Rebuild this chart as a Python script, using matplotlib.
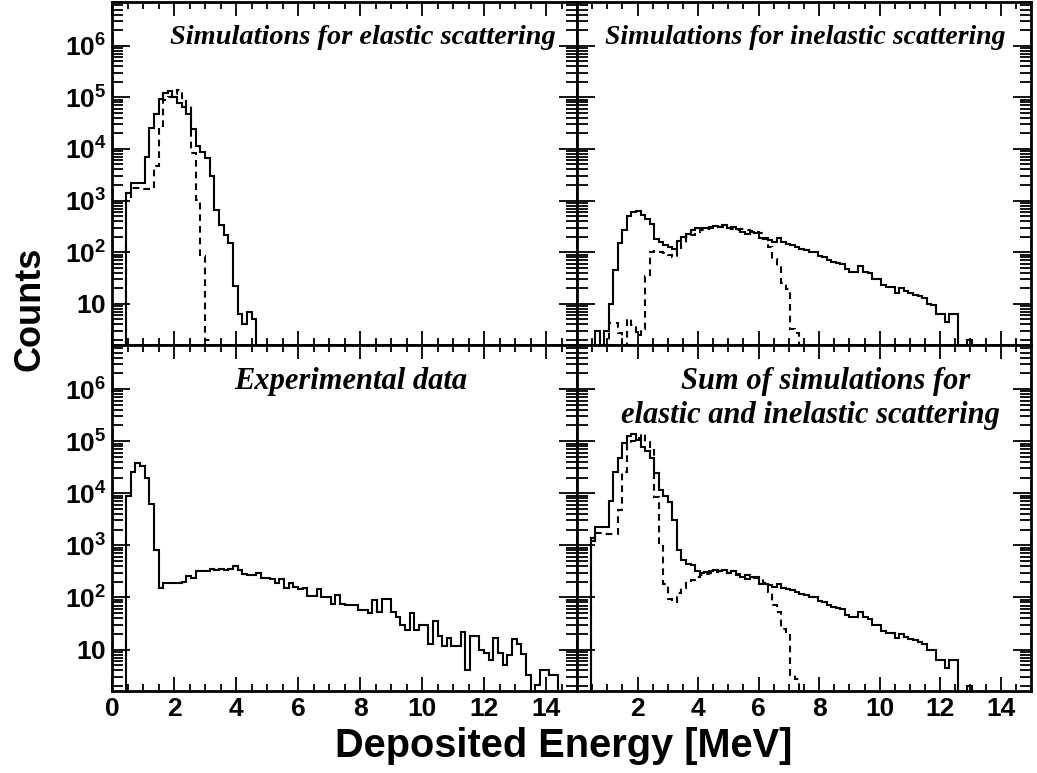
import numpy as np
import matplotlib
matplotlib.use("Agg")
import matplotlib.pyplot as plt
from matplotlib import font_manager
from matplotlib.ticker import MultipleLocator, LogLocator, NullFormatter, FixedLocator, FixedFormatter

# 100 bins of 0.15 MeV between 0 and 15 MeV
edges = np.linspace(0.0, 15.0, 101)

elastic_solid = [0, 0, 0, 1400, 2200, 2200, 2200, 7000, 2.6e4, 4.7e4,
                 9.2e4, 1.23e5, 1.35e5, 1.03e5, 7.6e4, 6.4e4, 4.8e4, 2.4e4, 1.15e4, 8.9e3,
                 6.6e3, 3.0e3, 650, 330, 220, 150, 22, 6.4, 4.1, 7.1,
                 5.1] + [0] * 69

elastic_dashed = [0, 0, 0, 1200, 1740, 1740, 1660, 1660, 1660, 4660,
                  2.5e4, 8.9e4, 1.0e5, 1.15e5, 1.38e5, 9.6e4, 6.8e4, 8.3e3, 1030, 85,
                  2.0] + [0] * 79

inelastic_solid = [0, 0, 0, 0, 3, 0, 3, 10, 45, 150,
                   270, 500, 600, 640, 525, 450, 355, 180, 160, 140,
                   128, 115, 167, 195, 225, 270, 300, 290, 300, 315,
                   325, 315, 330, 295, 315, 280, 250, 230, 250, 240,
                   185, 178, 173, 160, 185, 155, 147, 136, 125, 115,
                   109, 103, 101, 85, 80, 71, 66, 62, 59, 47,
                   42, 42, 53, 42, 39, 30, 30, 23, 21, 21,
                   16.5, 20, 17.5, 16, 15, 14, 13, 10, 9.6, 6.4,
                   6.4, 4.4, 6.4, 6.4, 0, 0, 2, 0, 0, 0,
                   0, 0, 0, 0, 0, 0, 0, 0, 0, 0]

inelastic_dashed = [0, 0, 0, 0, 0, 0, 0, 4.2, 4.2, 2.7,
                    0, 5, 3.9, 2.5, 3.3, 34, 100, 105, 100, 95,
                    90, 80, 119, 154, 195, 213, 244, 270, 286, 295,
                    305, 315, 315, 295, 286, 270, 278, 270, 262, 250,
                    232, 186, 128, 73, 53, 25, 19, 3.2, 2.7, 0] + [0] * 50

experimental = [0, 0, 0, 8700, 2.5e4, 3.8e4, 3.3e4, 1.96e4, 6200, 800,
                155, 186, 188, 190, 190, 200, 263, 237, 320, 320,
                320, 355, 340, 345, 340, 345, 405, 330, 280, 266,
                266, 290, 237, 237, 222, 190, 222, 155, 186, 160,
                143, 155, 107, 107, 143, 100, 100, 74, 113, 74,
                71, 71, 71, 58, 58, 51, 89, 53, 95, 95,
                53, 43, 30, 24, 51, 24, 30, 30, 12.9, 36,
                18, 11.6, 17, 11.6, 11.6, 22, 4.1, 18, 18, 10,
                8.6, 6.2, 17, 8.6, 5.1, 8, 15.6, 12.5, 8.2, 3.3,
                0, 2.1, 4.1, 4.1, 3.3, 3.3, 0, 0, 0, 0]

sum_solid = np.add(elastic_solid, inelastic_solid)
sum_dashed = np.add(elastic_dashed, inelastic_dashed)

x_major = [0, 2, 4, 6, 8, 10, 12, 14]
y_major = [1e1, 1e2, 1e3, 1e4, 1e5, 1e6]
y_labels = [r"$\mathbf{10}$", r"$\mathbf{10^{2}}$", r"$\mathbf{10^{3}}$",
            r"$\mathbf{10^{4}}$", r"$\mathbf{10^{5}}$", r"$\mathbf{10^{6}}$"]

plt.rcParams["font.family"] = ["Liberation Sans", "DejaVu Sans"]
plt.rcParams["mathtext.fontset"] = "custom"
plt.rcParams["mathtext.bf"] = "Liberation Sans:bold"
plt.rcParams["mathtext.rm"] = "Liberation Sans:bold"

installed = {f.name for f in font_manager.fontManager.ttflist}
narrow = "Liberation Sans Narrow" in installed

W, H = 1037, 773
fig = plt.figure(figsize=(W / 100, H / 100), dpi=100)


def frame(x0, x1, ytop, ybot):
    return [x0 / W, 1 - ybot / H, (x1 - x0) / W, (ybot - ytop) / H]


def px(x, y):
    return x / W, 1 - y / H


ax_tl = fig.add_axes(frame(112, 577, 2, 345))
ax_tr = fig.add_axes(frame(577, 1031, 2, 345))
ax_bl = fig.add_axes(frame(112, 577, 345, 691))
ax_br = fig.add_axes(frame(577, 1031, 345, 691))

YMIN, YMAX = 1.6, 7e6
FLOOR = 1e-2
dash = (0, (3.2, 2.4))


def draw_hist(ax, values, style):
    v = np.maximum(np.asarray(values, dtype=float), FLOOR)
    xs = np.repeat(edges, 2)[1:-1]
    ys = np.repeat(v, 2)
    ax.plot(xs, ys, color="black", lw=1.5, linestyle=style,
            solid_joinstyle="miter", dash_joinstyle="miter")


for ax in (ax_tl, ax_tr, ax_bl, ax_br):
    ax.set_yscale("log")
    ax.set_xlim(0, 15)
    ax.set_ylim(YMIN, YMAX)
    ax.xaxis.set_major_locator(FixedLocator(x_major))
    ax.xaxis.set_minor_locator(MultipleLocator(0.5))
    ax.yaxis.set_major_locator(FixedLocator(y_major))
    ax.yaxis.set_minor_locator(LogLocator(base=10, subs=np.arange(2, 10), numticks=20))
    ax.yaxis.set_minor_formatter(NullFormatter())
    ax.tick_params(which="both", direction="in", top=True, right=True,
                   width=1.3, labelsize=19, pad=4)
    ax.tick_params(axis="x", which="major", length=10)
    ax.tick_params(axis="x", which="minor", length=5)
    ax.tick_params(axis="y", which="major", length=13)
    ax.tick_params(axis="y", which="minor", length=8)
    for s in ax.spines.values():
        s.set_linewidth(2.0)

# tick labels only on the outer edges
for ax in (ax_tl, ax_tr):
    ax.xaxis.set_major_formatter(NullFormatter())
for ax in (ax_tr, ax_br):
    ax.yaxis.set_major_formatter(NullFormatter())
for ax in (ax_tl, ax_bl):
    ax.yaxis.set_major_formatter(FixedFormatter(y_labels))
ax_bl.xaxis.set_major_formatter(FixedFormatter([str(t) for t in x_major]))
ax_br.xaxis.set_major_formatter(FixedFormatter([""] + [str(t) for t in x_major[1:]]))
for ax in (ax_bl, ax_br):
    for lab in ax.get_xticklabels():
        lab.set_fontweight("bold")

draw_hist(ax_tl, elastic_solid, "-")
draw_hist(ax_tl, elastic_dashed, dash)
draw_hist(ax_tr, inelastic_solid, "-")
draw_hist(ax_tr, inelastic_dashed, dash)
draw_hist(ax_bl, experimental, "-")
draw_hist(ax_br, sum_solid, "-")
draw_hist(ax_br, sum_dashed, dash)

serif_bi = dict(family="Liberation Serif", weight="bold", style="italic")
fig.text(*px(556, 37), "Simulations for elastic scattering", ha="right", va="center",
         size=20.4, **serif_bi)
fig.text(*px(805, 37), "Simulations for inelastic scattering", ha="center", va="center",
         size=20.0, **serif_bi)
fig.text(*px(351, 382), "Experimental data", ha="center", va="center",
         size=22, **serif_bi)
fig.text(*px(826, 382), "Sum of simulations for", ha="center", va="center",
         size=22, **serif_bi)
fig.text(*px(810, 416), "elastic and inelastic scattering", ha="center", va="center",
         size=22, **serif_bi)

fig.text(*px(564, 746), "Deposited Energy [MeV]", ha="center", va="center",
         fontsize=28.6, fontweight="bold")
if narrow:
    fig.text(*px(30, 309), "Counts", ha="center", va="center", rotation=90,
             family="Liberation Sans Narrow", fontsize=31, fontweight="bold")
else:
    fig.text(*px(30, 309), "Counts", ha="center", va="center", rotation=90,
             fontsize=26, fontweight="bold")

fig.savefig("out.png", dpi=100)
